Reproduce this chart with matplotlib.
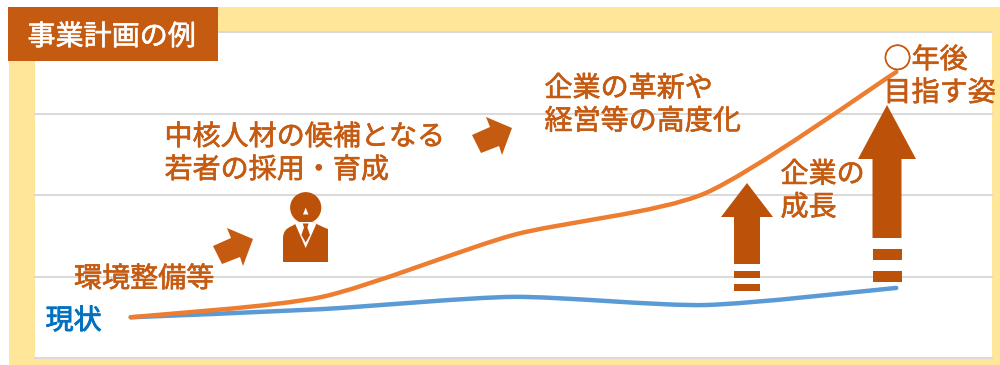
#!/usr/bin/env python3

import sys

import matplotlib.pyplot as plt
import matplotlib.patheffects as pe
from matplotlib.patches import Circle, PathPatch, Polygon, Rectangle
from matplotlib.path import Path

plt.rcParams["font.family"] = ["Noto Sans CJK JP", "DejaVu Sans"]

CATEGORIES = [0, 1, 2, 3, 4]
GROWTH_PLAN = [0.50, 0.75, 1.51, 2.02, 3.51]
CURRENT_PATH = [0.50, 0.60, 0.75, 0.65, 0.86]
GRID_LEVELS = [0, 1, 2, 3, 4]

TITLE = "事業計画の例"
LABEL_START = "現状"
LABEL_ENV = "環境整備等"
LABEL_HIRE = "中核人材の候補となる\n若者の採用・育成"
LABEL_REFORM = "企業の革新や\n経営等の高度化"
LABEL_GROWTH = "企業の\n成長"
LABEL_GOAL = "○年後\n目指す姿"

W, H = 1000, 365
BROWN = "#C55A11"
ARROW = "#BC510A"
FRAME = "#FFE699"
GRID = "#D9D9D9"


def smooth_path(xs, ys, k=0.12):
    # cubic segments through each value, same idea as a spreadsheet "smoothed line"
    verts = [(xs[0], ys[0])]
    codes = [Path.MOVETO]
    n = len(xs)
    for i in range(n - 1):
        x0, y0 = xs[max(i - 1, 0)], ys[max(i - 1, 0)]
        x1, y1 = xs[i], ys[i]
        x2, y2 = xs[i + 1], ys[i + 1]
        x3, y3 = xs[min(i + 2, n - 1)], ys[min(i + 2, n - 1)]
        verts += [(x1 + k * (x2 - x0), y1 + k * (y2 - y0)),
                  (x2 - k * (x3 - x1), y2 - k * (y3 - y1)),
                  (x2, y2)]
        codes += [Path.CURVE4] * 3
    return Path(verts, codes)


def draw_up_arrow(ax, tip, head_y, head_hw, shaft_hw, shaft_end, dashes):
    cx, ty = tip
    ax.add_patch(Polygon([(cx, ty), (cx + head_hw, head_y), (cx + shaft_hw, head_y),
                          (cx + shaft_hw, shaft_end), (cx - shaft_hw, shaft_end),
                          (cx - shaft_hw, head_y), (cx - head_hw, head_y)],
                         closed=True, fc=ARROW, ec="none", zorder=4))
    for top, bottom in dashes:
        ax.add_patch(Rectangle((cx - shaft_hw, top), 2 * shaft_hw, bottom - top,
                               fc=ARROW, ec="none", zorder=4))


def draw_tilted_arrow(ax, dx, dy):
    outline = [(227, 228), (253, 239), (243, 266), (240, 257),
               (222, 264), (213, 246), (231, 238)]
    ax.add_patch(Polygon([(x + dx, y + dy) for x, y in outline], closed=True,
                         fc=BROWN, ec="none", zorder=4))


def draw_person(ax):
    ax.add_patch(Circle((305.7, 207.7), 15.6, fc=ARROW, ec="none", zorder=4))
    ax.add_patch(Polygon([(305.7, 207.5), (303.0, 214.5), (308.4, 214.5)],
                         fc="white", ec="none", zorder=5))
    body = Path([(283, 262), (283, 238), (283, 229), (292, 226), (298, 222.5),
                 (314, 222.5), (320, 226), (328, 229), (328, 238), (328, 262), (283, 262)],
                [Path.MOVETO, Path.LINETO, Path.CURVE3, Path.CURVE3, Path.LINETO,
                 Path.LINETO, Path.CURVE3, Path.CURVE3, Path.LINETO, Path.LINETO,
                 Path.CLOSEPOLY])
    ax.add_patch(PathPatch(body, fc=ARROW, ec="none", zorder=4))
    # shirt collar and tie
    ax.add_patch(Polygon([(295, 223.5), (299, 222), (312, 222), (316.5, 223.5), (305.7, 248)],
                         fc="white", ec="none", zorder=5))
    ax.add_patch(Polygon([(302.8, 223.5), (308.6, 223.5), (307.4, 227.5), (310, 235),
                          (305.7, 242.5), (301.4, 235), (304, 227.5)],
                         fc=ARROW, ec="none", zorder=6))


def main():
    fig = plt.figure(figsize=(W / 100, H / 100), dpi=100)

    # page-level layer in pixel units for the frame, labels and pictograms
    page = fig.add_axes([0, 0, 1, 1], zorder=1)
    page.set_xlim(0, W)
    page.set_ylim(H, 0)
    page.axis("off")
    page.add_patch(Rectangle((9, 7), 991, 358, fc=FRAME, ec="none", zorder=0))

    # plot area, 5 categories with the points in the middle of each slot
    left, right, top, bottom = 35, 992, 32, 358
    ax = fig.add_axes([left / W, 1 - bottom / H, (right - left) / W, (bottom - top) / H], zorder=2)
    ax.set_xlim(-0.5, 4.5)
    ax.set_ylim(0, 4)
    ax.set_yticks(GRID_LEVELS)
    ax.set_xticks([])
    ax.tick_params(left=False, labelleft=False)
    ax.grid(axis="y", color=GRID, lw=1.4, clip_on=False)
    ax.set_axisbelow(True)
    for s in ax.spines.values():
        s.set_visible(False)
    for values, color, z in ((CURRENT_PATH, "#5B9BD5", 3), (GROWTH_PLAN, "#ED7D31", 4)):
        ax.add_patch(PathPatch(smooth_path(CATEGORIES, values), fc="none", ec=color, lw=3.2,
                               capstyle="round", joinstyle="round", zorder=z))

    # annotations sit on top of the plot
    over = fig.add_axes([0, 0, 1, 1], zorder=3)
    over.set_xlim(0, W)
    over.set_ylim(H, 0)
    over.axis("off")
    over.patch.set_alpha(0)

    over.add_patch(Rectangle((8, 7), 210, 54, fc=BROWN, ec="none", zorder=5))
    over.text(27.5, 37, TITLE, color="white", fontsize=20.2, va="center", ha="left", zorder=6,
              path_effects=[pe.withStroke(linewidth=0.4, foreground="white")])

    draw_tilted_arrow(over, 0, 0)
    draw_tilted_arrow(over, 259, -111)
    draw_person(over)
    draw_up_arrow(over, (747, 183), 217, 26, 13, 264, [(271, 278), (284, 290.5)])
    draw_up_arrow(over, (887, 105), 159, 29, 14.5, 238, [(249, 260), (271, 282)])

    heavy = [pe.withStroke(linewidth=0.45, foreground=BROWN)]
    kw = dict(color=BROWN, fontsize=20.2, va="center", ha="left", linespacing=1.13, zorder=7,
              path_effects=heavy)
    over.text(45.5, 321, LABEL_START, color="#0070C0", fontsize=20.2, va="center", ha="left",
              zorder=7, path_effects=[pe.withStroke(linewidth=0.6, foreground="#0070C0")])
    over.text(74, 279, LABEL_ENV, **kw)
    over.text(164.5, 153.5, LABEL_HIRE, **kw)
    over.text(544.5, 105, LABEL_REFORM, **kw)
    over.text(780.5, 191, LABEL_GROWTH, **kw)
    over.text(883.5, 76.5, LABEL_GOAL, **kw)

    fig.savefig("out.png", dpi=100)
    plt.close(fig)


if __name__ == "__main__":
    sys.exit(main())
